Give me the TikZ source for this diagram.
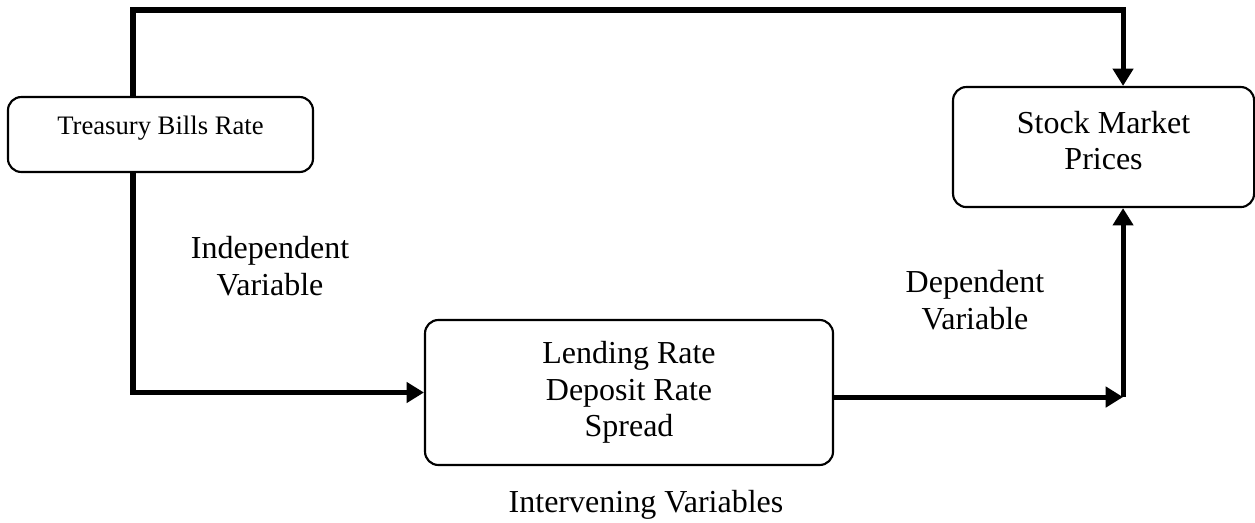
\documentclass[tikz,border=0pt]{standalone}
\usepackage{fontspec}
\setmainfont{Liberation Serif}
\usetikzlibrary{arrows.meta}
\begin{document}
\begin{tikzpicture}
      [line join=miter,
      var node/.style={rectangle,rounded corners=5pt,draw,line width=0.8pt,
        align=center,font=\fontsize{12pt}{13.6pt}\selectfont},
      label node/.style={align=center,font=\fontsize{12pt}{13.8pt}\selectfont},
      link/.style={line width=1.9pt,-{Triangle[length=6.5pt,width=7.5pt]}}]
      \useasboundingbox (0,0) rectangle (16.540,6.880);
      \node[var node,minimum width=4.02cm,minimum height=0.988cm,text depth=7pt,
        font=\fontsize{10pt}{12pt}\selectfont] (tbr) at (2.115,5.107) {Treasury Bills Rate};
      \node[var node,minimum width=3.967cm,minimum height=1.582cm,text depth=5pt]
        (smp) at (14.544,4.942) {Stock Market\\Prices};
      \node[var node,minimum width=5.377cm,minimum height=1.911cm] (iv) at (8.290,1.707)
        {Lending Rate\\Deposit Rate\\Spread};
      \node[label node] (indep) at (3.559,3.374) {Independent\\Variable};
      \node[label node] (dep) at (12.850,2.926) {Dependent\\Variable};
      \node[label node] (interv) at (8.514,0.224) {Intervening Variables};
      \coordinate (c1) at (1.753,6.748);
      \coordinate (c2) at (14.801,6.748);
      \coordinate (c3) at (14.801,1.647);
      \draw[link] (c1 |- tbr.north) -- (c1) -- (c2) -- (c2 |- smp.north);
      \draw[link] (c1 |- tbr.south) |- (iv.west);
      \draw[link] (iv.east |- c3) -- (c3);
      \draw[link] (c3) -- (c3 |- smp.south);
    \end{tikzpicture}
\end{document}
